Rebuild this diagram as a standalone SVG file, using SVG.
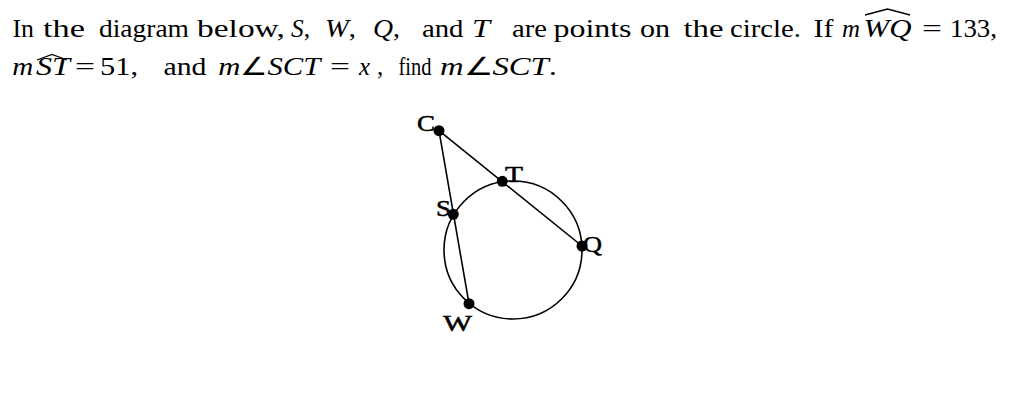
<svg xmlns="http://www.w3.org/2000/svg" width="1024" height="410" viewBox="0 0 1024 410">
<style>
  .t { font-family: "Liberation Serif", "Times New Roman", serif; font-size: 25px; fill: #000; }
  .i { font-style: italic; }
  .hat { fill: none; stroke: #000; stroke-width: 1.3; stroke-linejoin: miter; }
  .ln { stroke: #000; stroke-width: 1.6; fill: none; }
  .dot { fill: #000; }
  .lbl { font-family: "Liberation Serif", "Times New Roman", serif; font-size: 24px; fill: #000; stroke: #000; stroke-width: 0.5; }
</style>
<rect width="1024" height="410" fill="#fff"/>
<g id="question">
  <g id="line1" class="t">
    <text x="12.5" y="37" textLength="21.5" lengthAdjust="spacingAndGlyphs">In</text>
    <text x="43" y="37" textLength="42" lengthAdjust="spacingAndGlyphs">the</text>
    <text x="99" y="37" textLength="90" lengthAdjust="spacingAndGlyphs">diagram</text>
    <text x="197" y="37" textLength="88" lengthAdjust="spacingAndGlyphs">below,</text>
    <text x="291" y="37" textLength="19" lengthAdjust="spacingAndGlyphs"><tspan class="i">S</tspan>,</text>
    <text x="325" y="37" textLength="31" lengthAdjust="spacingAndGlyphs"><tspan class="i">W</tspan>,</text>
    <text x="373" y="37" textLength="27" lengthAdjust="spacingAndGlyphs"><tspan class="i">Q</tspan>,</text>
    <text x="422" y="37" textLength="41.5" lengthAdjust="spacingAndGlyphs">and</text>
    <text x="472" y="37" textLength="18" lengthAdjust="spacingAndGlyphs" class="i">T</text>
    <text x="512" y="37" textLength="35" lengthAdjust="spacingAndGlyphs">are</text>
    <text x="553.5" y="37" textLength="78" lengthAdjust="spacingAndGlyphs">points</text>
    <text x="640" y="37" textLength="30" lengthAdjust="spacingAndGlyphs">on</text>
    <text x="683.5" y="37" textLength="40" lengthAdjust="spacingAndGlyphs">the</text>
    <text x="730" y="37" textLength="71" lengthAdjust="spacingAndGlyphs">circle.</text>
    <text x="813.5" y="37" textLength="20" lengthAdjust="spacingAndGlyphs">If</text>
    <text x="842" y="37" textLength="18" lengthAdjust="spacingAndGlyphs" class="i">m</text>
    <text x="863.5" y="37" textLength="48" lengthAdjust="spacingAndGlyphs" class="i">WQ</text>
    <text x="922" y="37" textLength="20" lengthAdjust="spacingAndGlyphs">=</text>
    <text x="950" y="37" textLength="47" lengthAdjust="spacingAndGlyphs">133,</text>
    <path class="hat" d="M865,15 L887.5,9 L910,15"/>
  </g>
  <g id="line2" class="t">
    <text x="12.3" y="75" textLength="21" lengthAdjust="spacingAndGlyphs" class="i">m</text>
    <text x="36" y="75" textLength="34" lengthAdjust="spacingAndGlyphs" class="i">ST</text>
    <path class="hat" d="M37,60 L52,54.5 L67,60"/>
    <text x="75" y="75" textLength="20" lengthAdjust="spacingAndGlyphs">=</text>
    <text x="100" y="75" textLength="38" lengthAdjust="spacingAndGlyphs">51,</text>
    <text x="163.5" y="75" textLength="43" lengthAdjust="spacingAndGlyphs">and</text>
    <text x="218.3" y="75" textLength="102" lengthAdjust="spacingAndGlyphs"><tspan class="i">m</tspan>∠<tspan class="i">SCT</tspan></text>
    <text x="330" y="75" textLength="20" lengthAdjust="spacingAndGlyphs">=</text>
    <text x="359" y="75" textLength="11" lengthAdjust="spacingAndGlyphs" class="i">x</text>
    <text x="377" y="75">,</text>
    <text x="398.5" y="75" textLength="33" lengthAdjust="spacingAndGlyphs">find</text>
    <text x="440" y="75" textLength="117" lengthAdjust="spacingAndGlyphs"><tspan class="i">m</tspan>∠<tspan class="i">SCT</tspan>.</text>
  </g>
</g>
<g id="circle-figure">
  <circle id="circle" cx="513" cy="250" r="69" class="ln"/>
</g>
<g id="connectors">
  <line id="CW" x1="439" y1="130.7" x2="469" y2="303.7" class="ln"/>
  <line id="CQ" x1="439" y1="130.7" x2="582" y2="246" class="ln"/>
</g>
<g id="node-C">
  <circle class="dot" cx="439" cy="130.7" r="5.5"/>
  <text class="lbl" x="417" y="131" textLength="18" lengthAdjust="spacingAndGlyphs">C</text>
</g>
<g id="node-T">
  <circle class="dot" cx="502.3" cy="181.3" r="5.5"/>
  <text class="lbl" x="505" y="182" textLength="18" lengthAdjust="spacingAndGlyphs">T</text>
</g>
<g id="node-S">
  <circle class="dot" cx="453.3" cy="214.3" r="5.5"/>
  <text class="lbl" x="436" y="216" textLength="15" lengthAdjust="spacingAndGlyphs">S</text>
</g>
<g id="node-Q">
  <circle class="dot" cx="582" cy="246" r="5.5"/>
  <text class="lbl" x="583" y="252" textLength="19" lengthAdjust="spacingAndGlyphs">Q</text>
</g>
<g id="node-W">
  <circle class="dot" cx="469" cy="303.7" r="5.5"/>
  <text class="lbl" x="443" y="331" textLength="29" lengthAdjust="spacingAndGlyphs">W</text>
</g>
</svg>
